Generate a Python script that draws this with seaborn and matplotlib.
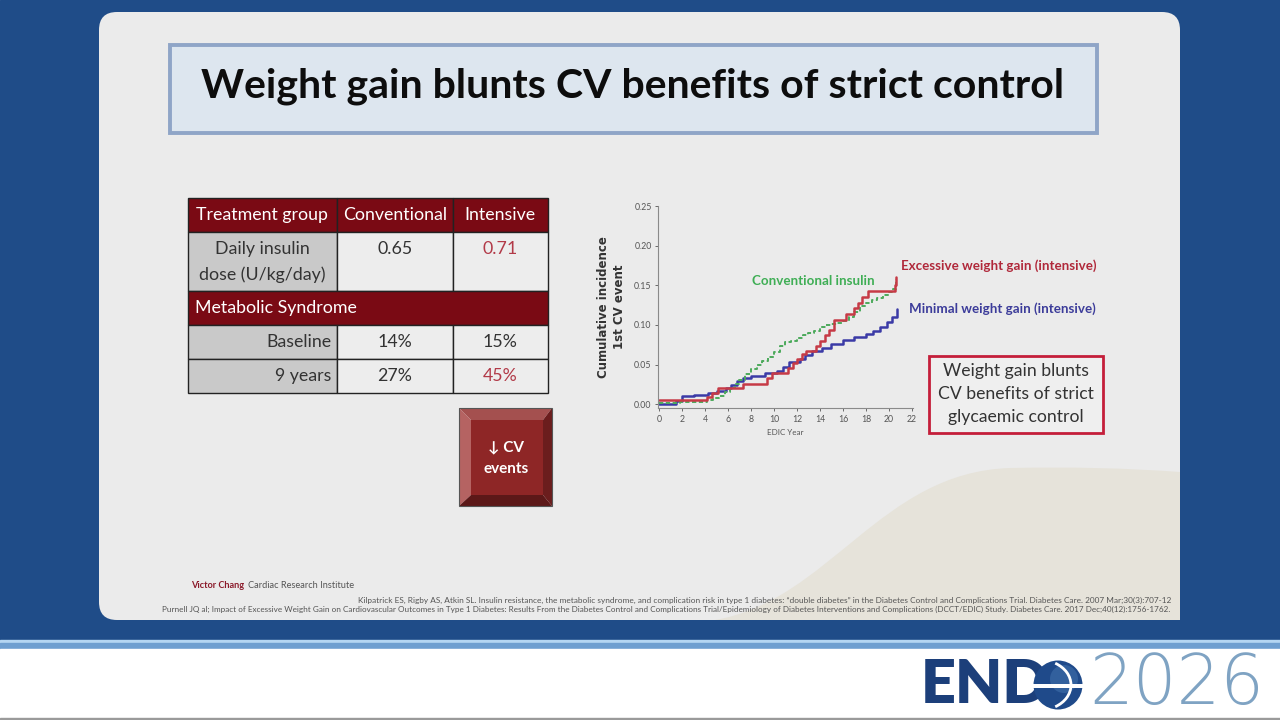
import numpy as np
import pandas as pd
import seaborn as sns
import matplotlib.pyplot as plt
from matplotlib.patches import Rectangle, FancyBboxPatch, Polygon, Circle, PathPatch, Arc
from matplotlib.path import Path

sns.set_theme(style="white")
plt.rcParams['font.family'] = ['Lato', 'DejaVu Sans']

# ---- data ----
table_cols = ["Treatment group", "Conventional", "Intensive"]
insulin_dose = ["0.65", "0.71"]
metsyn_rows = ["Baseline", "9 years"]
metsyn_conv = ["14%", "27%"]
metsyn_int = ["15%", "45%"]

# cumulative incidence of 1st CV event (step curves, EDIC year)
red_x = [0, 4.2, 4.6, 5.1, 7.3, 9.4, 9.8, 11.2, 11.7, 12.0, 12.4, 12.8, 13.7, 14.0, 14.4,
         14.8, 15.2, 16.3, 17.0, 17.3, 17.7, 18.2, 20.5, 20.6]
red_y = [0.006, 0.009, 0.014, 0.020, 0.026, 0.033, 0.040, 0.046, 0.052, 0.057, 0.063, 0.067,
         0.074, 0.080, 0.087, 0.094, 0.106, 0.114, 0.121, 0.128, 0.135, 0.143, 0.150, 0.160]
blue_x = [0, 1.5, 2.0, 3.0, 4.3, 5.0, 5.8, 6.3, 6.8, 7.3, 8.0, 9.2, 10.3, 10.8, 11.3, 12.3,
          12.7, 13.3, 14.2, 15.0, 16.0, 17.0, 18.0, 18.6, 19.2, 19.8, 20.3, 20.7]
blue_y = [0.001, 0.004, 0.010, 0.012, 0.014, 0.017, 0.020, 0.024, 0.029, 0.033, 0.036, 0.039,
          0.042, 0.047, 0.053, 0.057, 0.062, 0.067, 0.071, 0.076, 0.081, 0.085, 0.089, 0.093,
          0.098, 0.104, 0.110, 0.120]
green_x = [0, 1.8, 4.2, 4.7, 5.2, 5.7, 6.2, 6.6, 7.0, 7.5, 8.0, 8.5, 9.0, 9.5, 10.0, 10.5,
           11.0, 11.5, 12.0, 12.5, 13.0, 13.5, 14.0, 14.5, 15.0, 15.5, 16.0, 16.5, 17.0, 17.5,
           18.0, 18.5, 19.0, 19.5, 20.0, 20.4, 20.6]
green_y = [0.002, 0.003, 0.005, 0.008, 0.011, 0.015, 0.020, 0.026, 0.031, 0.038, 0.045, 0.050,
           0.054, 0.060, 0.066, 0.074, 0.078, 0.080, 0.083, 0.087, 0.090, 0.093, 0.097, 0.100,
           0.101, 0.103, 0.105, 0.110, 0.117, 0.124, 0.128, 0.131, 0.134, 0.138, 0.141, 0.146,
           0.158]

curves = pd.concat([
    pd.DataFrame({"year": blue_x, "inc": blue_y, "group": "Minimal"}),
    pd.DataFrame({"year": green_x, "inc": green_y, "group": "Conventional"}),
    pd.DataFrame({"year": red_x, "inc": red_y, "group": "Excessive"}),
])
colors = {"Excessive": "#c63a46", "Minimal": "#3b3aa6", "Conventional": "#4caa5c"}

# ---- figure / slide background ----
fig = plt.figure(figsize=(12.8, 7.2), dpi=100)
bg = fig.add_axes([0, 0, 1, 1])
bg.set_xlim(0, 1280)
bg.set_ylim(720, 0)
bg.axis("off")

bg.add_patch(Rectangle((0, 0), 1280, 641, color="#1f4c88", zorder=0))
bg.add_patch(Rectangle((0, 640), 1280, 3, color="#b5d6f2", zorder=1))
bg.add_patch(Rectangle((0, 643), 1280, 6, color="#6f9fd0", zorder=1))
bg.add_patch(Rectangle((0, 649), 1280, 71, color="white", zorder=1))
bg.add_patch(Rectangle((0, 718), 1280, 2, color="#9a9a9a", zorder=1))

# slide panel
bg.add_patch(FancyBboxPatch((99, 12), 1081, 608, boxstyle="round,pad=0,rounding_size=18",
                            fc="#ebebeb", ec="none", zorder=2))
# soft beige swoosh at bottom right
verts = [(715, 620), (830, 600), (880, 472), (1010, 468), (1100, 466), (1180, 472),
         (1180, 600), (1180, 620), (715, 620)]
codes = [Path.MOVETO, Path.CURVE4, Path.CURVE4, Path.CURVE4, Path.CURVE3, Path.CURVE3,
         Path.LINETO, Path.LINETO, Path.CLOSEPOLY]
bg.add_patch(PathPatch(Path(verts, codes), fc="#e6e3da", ec="none", zorder=3))

# title box
bg.add_patch(Rectangle((170, 45), 927, 88, fc="#dde6ef", ec="#8fa5c7", lw=2.8, zorder=4))
bg.text(633, 86, "Weight gain blunts CV benefits of strict control", ha="center", va="center",
        fontsize=29.5, fontweight="bold", color="#0d0d0d", zorder=5)

# ---- table ----
dark_red = "#7a0a14"
col_x = [188, 337, 453, 548]
col_c = [262, 395, 500]
rows_y = [198, 232, 291, 325, 359, 393]
tfs = 12.8


def cell(x0, x1, y0, y1, fc):
    bg.add_patch(Rectangle((x0, y0), x1 - x0, y1 - y0, fc=fc, ec="#222222", lw=1, zorder=5))


for i in range(3):
    cell(col_x[i], col_x[i + 1], rows_y[0], rows_y[1], dark_red)
    bg.text(col_c[i], (rows_y[0] + rows_y[1]) / 2, table_cols[i], ha="center", va="center",
            color="white", fontsize=tfs, zorder=6)

cell(col_x[0], col_x[1], rows_y[1], rows_y[2], "#c9c9c9")
cell(col_x[1], col_x[2], rows_y[1], rows_y[2], "#ededed")
cell(col_x[2], col_x[3], rows_y[1], rows_y[2], "#ededed")
bg.text(col_c[0], 249, "Daily insulin", ha="center", va="center", color="#333333", fontsize=tfs, zorder=6)
bg.text(col_c[0], 275, "dose (U/kg/day)", ha="center", va="center", color="#333333", fontsize=tfs, zorder=6)
bg.text(col_c[1], 249, insulin_dose[0], ha="center", va="center", color="#333333", fontsize=tfs, zorder=6)
bg.text(col_c[2], 249, insulin_dose[1], ha="center", va="center", color="#b23a48", fontsize=tfs, zorder=6)

cell(col_x[0], col_x[3], rows_y[2], rows_y[3], dark_red)
bg.text(195, (rows_y[2] + rows_y[3]) / 2, "Metabolic Syndrome", ha="left", va="center",
        color="white", fontsize=tfs, zorder=6)

for k in range(2):
    y0, y1 = rows_y[3 + k], rows_y[4 + k]
    yc = (y0 + y1) / 2
    cell(col_x[0], col_x[1], y0, y1, "#c9c9c9")
    cell(col_x[1], col_x[2], y0, y1, "#ededed")
    cell(col_x[2], col_x[3], y0, y1, "#ededed")
    bg.text(331, yc, metsyn_rows[k], ha="right", va="center", color="#333333", fontsize=tfs, zorder=6)
    bg.text(col_c[1], yc, metsyn_conv[k], ha="center", va="center", color="#333333", fontsize=tfs, zorder=6)
    bg.text(col_c[2], yc, metsyn_int[k], ha="center", va="center",
            color="#b23a48" if k == 1 else "#333333", fontsize=tfs, zorder=6)

# bevelled button
bx0, bx1, by0, by1 = 459, 552, 408, 506
ix0, ix1, iy0, iy1 = 471, 543, 420, 495
bg.add_patch(Polygon([(bx0, by0), (bx1, by0), (ix1, iy0), (ix0, iy0)], fc="#a4504f", ec="none", zorder=5))
bg.add_patch(Polygon([(bx0, by0), (ix0, iy0), (ix0, iy1), (bx0, by1)], fc="#b56362", ec="none", zorder=5))
bg.add_patch(Polygon([(bx1, by0), (bx1, by1), (ix1, iy1), (ix1, iy0)], fc="#6b1d1d", ec="none", zorder=5))
bg.add_patch(Polygon([(bx0, by1), (bx1, by1), (ix1, iy1), (ix0, iy1)], fc="#5c1818", ec="none", zorder=5))
bg.add_patch(Rectangle((ix0, iy0), ix1 - ix0, iy1 - iy0, fc="#8e2626", ec="none", zorder=5))
bg.add_patch(Rectangle((bx0, by0), bx1 - bx0, by1 - by0, fc="none", ec="#555555", lw=0.8, zorder=6))
bg.text(506, 447, "↓ CV", ha="center", va="center", color="white", fontsize=11,
        fontweight="bold", zorder=7)
bg.text(506, 469, "events", ha="center", va="center", color="white", fontsize=11,
        fontweight="bold", zorder=7)

# ---- KM chart ----
ax = fig.add_axes([657.9 / 1280, (720 - 408.3) / 720, (913 - 657.9) / 1280, (408.3 - 206) / 720])
ax.patch.set_alpha(0)
sns.lineplot(data=curves, x="year", y="inc", hue="group", style="group", palette=colors,
             dashes={"Minimal": "", "Conventional": (2.2, 1.3), "Excessive": ""},
             drawstyle="steps-post", estimator=None, sort=False, legend=False,
             linewidth=1.8, ax=ax)
# the dashed conventional curve is drawn a little thinner on the slide
for ln in ax.lines:
    if ln.get_linestyle() not in ("-", "solid"):
        ln.set_linewidth(1.4)
ax.set_xlim(-0.1, 22.1)
ax.set_ylim(-0.005, 0.25)
ax.set_xticks(range(0, 23, 2))
ax.set_yticks([0, 0.05, 0.10, 0.15, 0.20, 0.25])
ax.set_yticklabels(["0.00", "0.05", "0.10", "0.15", "0.20", "0.25"])
ax.tick_params(axis="both", labelsize=6.3, colors="#555555", length=2.5, width=0.6,
               direction="out", pad=2)
ax.tick_params(axis="x", bottom=True)
ax.tick_params(axis="y", left=True)
for s in ["top", "right"]:
    ax.spines[s].set_visible(False)
for s in ["left", "bottom"]:
    ax.spines[s].set_color("#8a8a8a")
    ax.spines[s].set_linewidth(0.8)
ax.set_xlabel("EDIC Year", fontsize=5.8, color="#555555", labelpad=4)
ax.set_ylabel("Cumulative incidence\n1st CV event", fontsize=8.5, fontweight="bold",
              color="#333333", family="DejaVu Sans", labelpad=6, linespacing=1.3)
ax.grid(False)

bg.text(813, 281, "Conventional insulin", ha="center", va="center", color="#3fae55",
        fontsize=9.6, fontweight="bold", zorder=6)
bg.text(999, 266, "Excessive weight gain (intensive)", ha="center", va="center",
        color="#b0283a", fontsize=9.6, fontweight="bold", zorder=6)
bg.text(1002, 309, "Minimal weight gain (intensive)", ha="center", va="center",
        color="#3c3c9a", fontsize=9.6, fontweight="bold", zorder=6)

bg.add_patch(Rectangle((929, 356), 174, 77, fc="#efefef", ec="#c41e3a", lw=2, zorder=5))
for yy, line in zip([371, 394, 417], ["Weight gain blunts", "CV benefits of strict",
                                      "glycaemic control"]):
    bg.text(1016, yy, line, ha="center", va="center", color="#333333", fontsize=12.7, zorder=6)

# ---- footer ----
bg.text(191, 586, "Victor Chang", ha="left", va="center", color="#8b1a2a", fontsize=6.6,
        fontweight="bold", zorder=6)
bg.text(248, 586, "Cardiac Research Institute", ha="left", va="center", color="#555555",
        fontsize=6.7, zorder=6)
bg.text(1171, 600, "Kilpatrick ES, Rigby AS, Atkin SL. Insulin resistance, the metabolic syndrome, "
        "and complication risk in type 1 diabetes: \u201cdouble diabetes\u201d in the Diabetes Control "
        "and Complications Trial. Diabetes Care. 2007 Mar;30(3):707-12",
        ha="right", va="center", color="#555555", fontsize=5.95, zorder=6)
bg.text(1170, 609, "Purnell JQ al; Impact of Excessive Weight Gain on Cardiovascular Outcomes in "
        "Type 1 Diabetes: Results From the Diabetes Control and Complications Trial/Epidemiology "
        "of Diabetes Interventions and Complications (DCCT/EDIC) Study. Diabetes Care. 2017 "
        "Dec;40(12):1756-1762.",
        ha="right", va="center", color="#555555", fontsize=5.9, zorder=6)

# ---- ENDO 2026 logo ----
bg.text(921, 685, "END", ha="left", va="center", color="#1c3f7a", fontsize=44,
        fontweight="heavy", zorder=6)
bg.add_patch(Circle((1058, 685), 24.5, fc="#1f4a8a", ec="none", zorder=6))
bg.add_patch(Circle((1064, 679), 14, fc="#3f6fab", ec="none", alpha=0.6, zorder=6))
bg.add_patch(Rectangle((1033, 684), 50, 3.5, fc="white", ec="none", zorder=7))
bg.add_patch(Arc((1040, 685), 62, 50, theta1=-55, theta2=55, color="white", lw=2, zorder=7))
bg.text(1089, 685, "2026", ha="left", va="center", color="#7fa3c3", fontsize=49.5,
        fontweight="light", family="DejaVu Sans", zorder=6)

fig.savefig("out.png", dpi=100)
